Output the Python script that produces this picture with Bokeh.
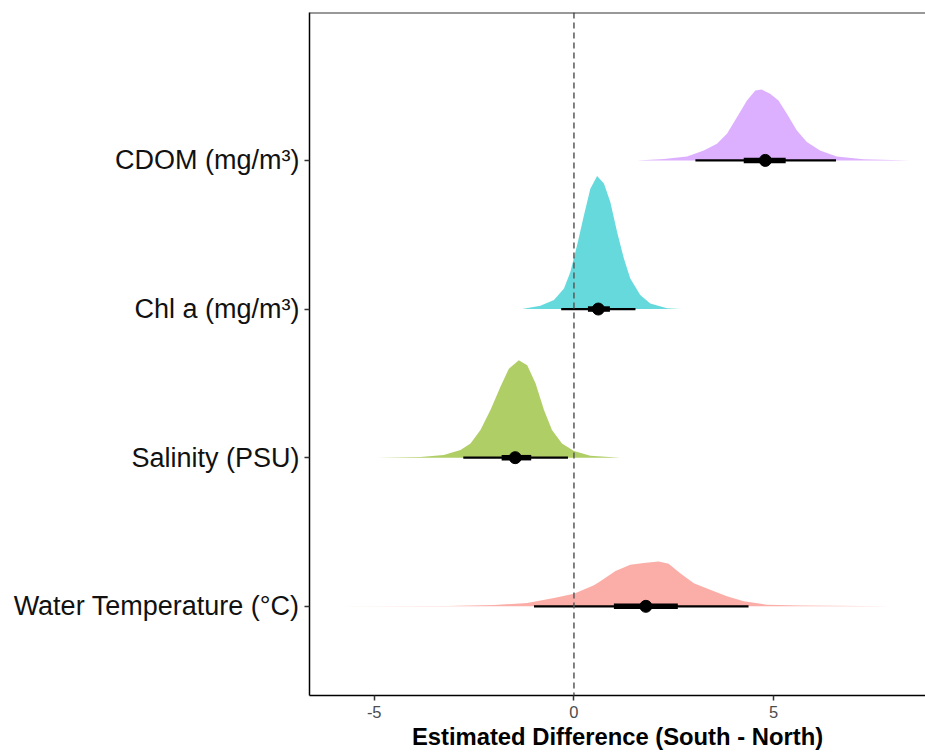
from bokeh.plotting import figure
from bokeh.models import Range1d, FixedTicker, Span, ColumnDataSource
from bokeh.embed import file_html
from bokeh.resources import INLINE

# Categories (bottom to top) and their row positions
categories = ["Water Temperature (°C)", "Salinity (PSU)", "Chl a (mg/m³)", "CDOM (mg/m³)"]
row_pos = [1, 2, 3, 4]
colors = ["#F8766D", "#7CAE00", "#00BFC4", "#C77CFF"]

# Posterior density outlines (x value, height in row units)
wt_x = [-6.00, -3.17, -2.00, -1.17, -0.50, 0.00, 0.50, 0.66, 1.04, 1.41, 1.75, 2.12, 2.37, 2.66, 3.00, 3.41, 3.83, 4.25, 4.83, 5.66, 7.91]
wt_h = [0.000, 0.002, 0.009, 0.022, 0.056, 0.085, 0.141, 0.168, 0.238, 0.280, 0.291, 0.302, 0.287, 0.223, 0.156, 0.112, 0.067, 0.034, 0.011, 0.005, 0.000]

sal_x = [-4.92, -3.84, -3.26, -2.84, -2.59, -2.34, -2.09, -1.84, -1.63, -1.38, -1.17, -0.96, -0.75, -0.55, -0.30, 0.00, 0.41, 1.16]
sal_h = [0.000, 0.005, 0.018, 0.052, 0.096, 0.186, 0.320, 0.477, 0.599, 0.656, 0.622, 0.499, 0.320, 0.186, 0.096, 0.045, 0.013, 0.000]

chl_x = [-1.30, -0.84, -0.50, -0.25, -0.09, 0.08, 0.25, 0.41, 0.58, 0.75, 0.91, 1.08, 1.25, 1.41, 1.66, 1.91, 2.33, 2.66]
chl_h = [0.000, 0.022, 0.060, 0.139, 0.250, 0.430, 0.631, 0.810, 0.895, 0.844, 0.720, 0.519, 0.340, 0.206, 0.094, 0.038, 0.005, 0.000]

cdom_x = [1.58, 2.25, 2.83, 3.25, 3.58, 3.83, 4.08, 4.33, 4.54, 4.70, 4.91, 5.12, 5.33, 5.58, 5.83, 6.16, 6.58, 7.25, 8.41]
cdom_h = [0.000, 0.009, 0.027, 0.067, 0.112, 0.179, 0.291, 0.403, 0.470, 0.477, 0.448, 0.403, 0.313, 0.201, 0.123, 0.067, 0.027, 0.007, 0.000]

# Point + interval summaries (median, 66% and 95% intervals)
medians = [1.80, -1.47, 0.61, 4.79]
lo95 = [-1.00, -2.77, -0.32, 3.04]
hi95 = [4.37, -0.15, 1.54, 6.56]
lo66 = [1.00, -1.81, 0.35, 4.25]
hi66 = [2.60, -1.07, 0.90, 5.30]

x_label = "Estimated Difference (South - North)"
x_ticks = [-5, 0, 5]
x_tick_labels = ["-5", "0", "5"]

p = figure(width=925, height=752,
           x_range=Range1d(-6.62, 8.80), y_range=Range1d(0.40, 4.995),
           output_backend="svg", toolbar_location=None,
           min_border_left=309, min_border_right=0, min_border_top=12, min_border_bottom=0)

densities = [(wt_x, wt_h), (sal_x, sal_h), (chl_x, chl_h), (cdom_x, cdom_h)]
for (xs, hs), base, col in zip(densities, row_pos, colors):
    src = ColumnDataSource(dict(x=xs, y1=[base] * len(xs), y2=[base + h for h in hs]))
    p.varea(x="x", y1="y1", y2="y2", source=src, fill_color=col, fill_alpha=0.6)

p.add_layout(Span(location=0, dimension="height", line_color="#595959",
                  line_width=1.5, line_dash="6 4"))

iv = ColumnDataSource(dict(y=row_pos, med=medians, lo95=lo95, hi95=hi95, lo66=lo66, hi66=hi66))
p.segment(x0="lo95", x1="hi95", y0="y", y1="y", source=iv, line_color="black", line_width=2.3)
p.segment(x0="lo66", x1="hi66", y0="y", y1="y", source=iv, line_color="black", line_width=5.5)
p.scatter(x="med", y="y", source=iv, size=12, fill_color="black", line_color="black")

p.add_layout(Span(location=4.995, dimension="width", line_color="#333333", line_width=2))

p.outline_line_color = None
p.grid.grid_line_color = None

p.yaxis.ticker = FixedTicker(ticks=row_pos)
p.yaxis.major_label_overrides = {pos: lab for pos, lab in zip(row_pos, categories)}
p.yaxis.minor_tick_line_color = None
p.yaxis.major_tick_in = 0
p.yaxis.major_tick_out = 5
p.yaxis.major_label_standoff = 5
p.yaxis.major_label_text_font = "Liberation Sans"
p.yaxis.major_label_text_font_size = "27px"
p.yaxis.major_label_text_color = "#111111"
p.yaxis.axis_line_color = "black"
p.yaxis.axis_line_width = 1.5
p.yaxis.major_tick_line_color = "#333333"
p.yaxis.major_tick_line_width = 1.5

p.xaxis.ticker = FixedTicker(ticks=x_ticks)
p.xaxis.major_label_overrides = {t: lab for t, lab in zip(x_ticks, x_tick_labels)}
p.xaxis.minor_tick_line_color = None
p.xaxis.major_tick_in = 0
p.xaxis.major_tick_out = 5
p.xaxis.major_label_standoff = 5
p.xaxis.major_label_text_font = "Liberation Sans"
p.xaxis.major_label_text_font_size = "16.5px"
p.xaxis.major_label_text_color = "#4D4D4D"
p.xaxis.axis_line_color = "black"
p.xaxis.axis_line_width = 1.5
p.xaxis.major_tick_line_color = "#333333"
p.xaxis.major_tick_line_width = 1.5
p.xaxis.axis_label = x_label
p.xaxis.axis_label_text_font = "Liberation Sans"
p.xaxis.axis_label_text_font_style = "bold"
p.xaxis.axis_label_text_font_size = "23.8px"
p.xaxis.axis_label_text_color = "black"
p.xaxis.axis_label_standoff = 2

open("out.html", "w").write(file_html(p, INLINE))
